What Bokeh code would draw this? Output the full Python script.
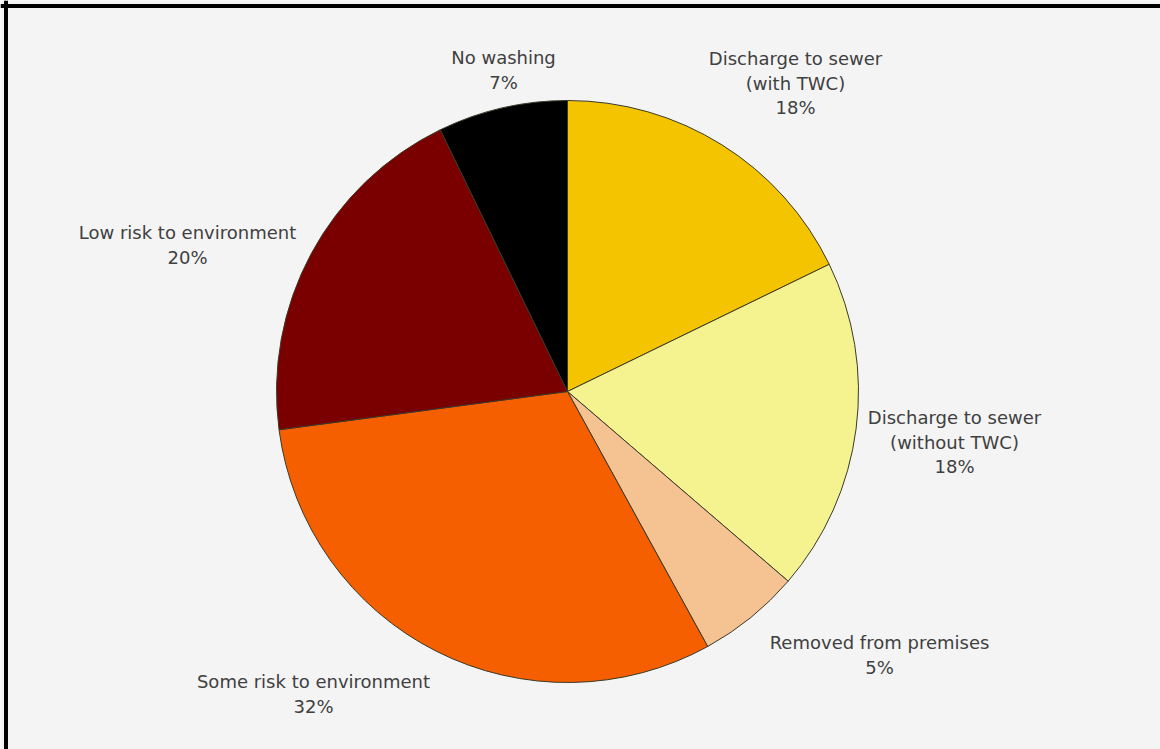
import numpy as np
from bokeh.plotting import figure
from bokeh.models import Range1d, Span, ColumnDataSource
from bokeh.core.properties import value
from bokeh.embed import file_html
from bokeh.resources import INLINE

# ---- data (clockwise from 12 o'clock) ----
categories = ["Discharge to sewer\n(with TWC)", "Discharge to sewer\n(without TWC)",
              "Removed from premises", "Some risk to environment",
              "Low risk to environment", "No washing"]
shares = [17.8, 18.5, 5.7, 30.9, 19.9, 7.2]          # wedge sizes
pct_labels = ["18%", "18%", "5%", "32%", "20%", "7%"]  # printed percentages
colors = ["#F5C400", "#F5F290", "#F5C292", "#F55F00", "#7A0000", "#000000"]

# ---- layout (pixel space, y measured from top) ----
W, H = 1160, 749
cx, cy, r = 567, 391, 291
label_x = [795, 954, 879, 313, 187, 503]
label_top = [58, 417, 642, 681, 232, 57]
line_gap = 24.5

p = figure(width=W, height=H, output_backend="svg", toolbar_location=None,
           x_range=Range1d(0, W), y_range=Range1d(0, H), min_border=0)
p.axis.visible = False
p.grid.visible = False
p.outline_line_color = None
p.background_fill_color = "#F4F4F4"
p.border_fill_color = "#F4F4F4"

vals = np.array(shares, dtype=float)
frac = vals / vals.sum()
cum = np.concatenate([[0], np.cumsum(frac)])
start = np.pi / 2 - 2 * np.pi * cum[:-1]
end = np.pi / 2 - 2 * np.pi * cum[1:]

src = ColumnDataSource(dict(x=[cx] * len(vals), y=[H - cy] * len(vals),
                            start=start, end=end, color=colors))
p.wedge(x="x", y="y", radius=r, start_angle="start", end_angle="end",
        direction="clock", fill_color="color", line_color="#3A3A2A",
        line_width=1, source=src)

# labels
tx, ty, tt = [], [], []
for name, pct, lx, lt in zip(categories, pct_labels, label_x, label_top):
    lines = name.split("\n") + [pct]
    for k, ln in enumerate(lines):
        tx.append(lx)
        ty.append(H - (lt + k * line_gap))
        tt.append(ln)
p.text(x=tx, y=ty, text=tt, text_align="center", text_baseline="middle",
       text_font=value("DejaVu Sans"), text_font_size="18px", text_color="#404040")

# frame (top and left edges)
p.add_layout(Span(location=H - 5.5, dimension="width", line_color="black", line_width=4))
p.add_layout(Span(location=5.5, dimension="height", line_color="black", line_width=4))

open("out.html", "w").write(file_html(p, INLINE))
